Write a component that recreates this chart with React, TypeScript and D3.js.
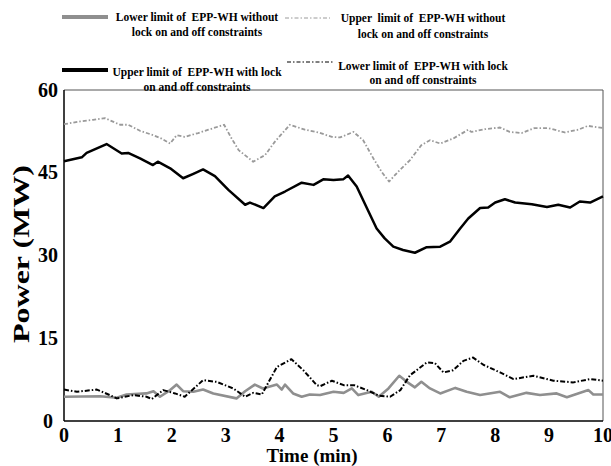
import React from "react";
import * as d3 from "d3";

const xTicks = [0, 1, 2, 3, 4, 5, 6, 7, 8, 9, 10];
const yTicks = [0, 15, 30, 45, 60];

// Upper limit with lock (black solid)
const tUpperLock = [0, 0.33, 0.42, 0.79, 1.07, 1.19, 1.41, 1.65, 1.74, 1.97, 2.21, 2.4, 2.58, 2.8, 3.05, 3.36, 3.45, 3.7, 3.91, 4.1, 4.41, 4.63, 4.81, 5.0, 5.18, 5.27, 5.43, 5.61, 5.8, 5.95, 6.11, 6.29, 6.51, 6.73, 6.98, 7.16, 7.35, 7.5, 7.72, 7.87, 8.0, 8.18, 8.37, 8.68, 8.96, 9.17, 9.39, 9.57, 9.76, 10];
const vUpperLock = [47.1, 47.8, 48.6, 50.2, 48.5, 48.6, 47.6, 46.4, 47.0, 45.8, 44.0, 44.8, 45.6, 44.4, 41.9, 39.2, 39.6, 38.6, 40.7, 41.6, 43.2, 42.8, 43.8, 43.7, 43.8, 44.5, 42.5, 38.8, 34.9, 33.1, 31.6, 31.0, 30.5, 31.5, 31.6, 32.5, 34.9, 36.7, 38.6, 38.7, 39.6, 40.2, 39.6, 39.3, 38.8, 39.2, 38.7, 39.8, 39.6, 40.7];

// Upper limit without lock (gray dash-dot)
const tUpperNoLock = [0, 0.3, 0.54, 0.76, 1.04, 1.19, 1.41, 1.66, 1.81, 1.97, 2.09, 2.24, 2.49, 2.68, 2.97, 3.11, 3.24, 3.51, 3.73, 3.91, 4.19, 4.47, 4.72, 4.97, 5.12, 5.37, 5.55, 5.74, 5.89, 6.03, 6.2, 6.42, 6.63, 6.79, 6.98, 7.22, 7.5, 7.56, 7.81, 8.09, 8.27, 8.49, 8.73, 8.98, 9.29, 9.54, 9.72, 10];
const vUpperNoLock = [53.8, 54.3, 54.6, 54.9, 53.7, 53.7, 52.6, 51.8, 51.2, 50.3, 51.8, 51.5, 52.2, 52.8, 53.7, 51.2, 49.1, 47.0, 48.2, 50.6, 53.7, 52.8, 52.3, 51.5, 51.4, 52.4, 50.9, 47.6, 45.2, 43.4, 45.2, 47.3, 50.0, 50.9, 50.3, 51.2, 52.8, 52.4, 52.9, 53.2, 52.4, 52.2, 53.1, 53.1, 52.3, 52.8, 53.5, 53.1];

// Lower limit with lock (black dash-dot)
const tLowerLock = [0, 0.24, 0.61, 0.85, 0.98, 1.29, 1.53, 1.63, 1.84, 2.06, 2.24, 2.58, 2.83, 3.14, 3.36, 3.51, 3.67, 3.95, 4.22, 4.44, 4.69, 4.75, 4.97, 5.19, 5.38, 5.62, 5.84, 6.05, 6.24, 6.42, 6.73, 6.88, 7.04, 7.22, 7.41, 7.59, 7.78, 8.09, 8.34, 8.71, 9.08, 9.45, 9.76, 10];
const vLowerLock = [5.7, 5.3, 5.7, 4.7, 4.1, 4.7, 4.4, 4.0, 5.6, 5.0, 4.4, 7.4, 7.1, 5.9, 4.4, 5.1, 4.8, 9.8, 11.2, 9.2, 6.5, 6.3, 7.3, 6.5, 6.5, 5.6, 4.6, 4.4, 5.6, 8.3, 10.6, 10.5, 8.8, 9.2, 10.9, 11.5, 10.2, 8.8, 7.6, 8.2, 7.3, 7.0, 7.6, 7.3];

// Lower limit without lock (gray solid)
const tLowerNoLock = [0, 0.67, 0.98, 1.16, 1.53, 1.66, 1.78, 1.97, 2.09, 2.21, 2.4, 2.58, 2.77, 3.2, 3.36, 3.54, 3.69, 3.95, 4.04, 4.1, 4.25, 4.41, 4.56, 4.75, 5.0, 5.19, 5.34, 5.46, 5.71, 5.84, 6.02, 6.22, 6.36, 6.51, 6.63, 6.79, 6.98, 7.26, 7.47, 7.72, 8.09, 8.27, 8.58, 8.83, 9.14, 9.33, 9.73, 9.82, 10];
const vLowerNoLock = [4.4, 4.5, 4.2, 4.8, 5.0, 5.4, 4.4, 5.6, 6.6, 5.4, 5.3, 5.7, 5.0, 4.1, 5.4, 6.6, 5.9, 6.6, 5.7, 6.6, 5.0, 4.4, 4.8, 4.7, 5.3, 5.1, 5.9, 4.7, 5.3, 4.4, 5.9, 8.2, 7.1, 6.1, 7.1, 5.9, 5.0, 6.0, 5.3, 4.7, 5.3, 4.3, 5.1, 4.7, 5.0, 4.3, 5.6, 4.8, 4.8];

const legendLines1 = ["Lower limit of  EPP-WH without", "lock on and off constraints"];
const legendLines2 = ["Upper  limit of  EPP-WH without", "lock on and off constraints"];
const legendLines3 = ["Upper limit of  EPP-WH with lock", "on and off constraints"];
const legendLines4 = ["Lower limit of  EPP-WH with lock", "on and off constraints"];

const W = 611, H = 466;
const L = 64, R = 603, T = 90, B = 421;
const FONT = "'Liberation Serif', 'Times New Roman', serif";

export default function App() {
  const x = d3.scaleLinear().domain([0, 10]).range([L, R]);
  const y = d3.scaleLinear().domain([0, 60]).range([B, T]);
  const mk = (ts: number[], vs: number[]) =>
    d3.line<number>().x((_, i) => x(ts[i])).y((v) => y(v))(vs) || "";

  const series = [
    { d: mk(tLowerNoLock, vLowerNoLock), stroke: "#8f8f8f", w: 2.6, dash: undefined },
    { d: mk(tLowerLock, vLowerLock), stroke: "#000", w: 2, dash: "5,2,1.5,2" },
    { d: mk(tUpperNoLock, vUpperNoLock), stroke: "#9a9a9a", w: 1.8, dash: "4,2,1.5,2" },
    { d: mk(tUpperLock, vUpperLock), stroke: "#000", w: 2.5, dash: undefined },
  ];

  const legendText = (lines: string[], cx: number, y0: number, dy: number) => (
    <text fontFamily={FONT} fontWeight="bold" fontSize={11.5} textAnchor="middle" fill="#000">
      {lines.map((l, i) => (
        <tspan key={i} x={cx} y={y0 + i * dy} style={{ whiteSpace: "pre" }}>{l}</tspan>
      ))}
    </text>
  );

  return (
    <svg width={W} height={H} style={{ position: "absolute", left: 0, top: 0, background: "#fff" }}>
      {/* frame */}
      <line x1={L} x2={R} y1={T} y2={T} stroke="#555" strokeWidth={1} />
      <line x1={R} x2={R} y1={T} y2={B} stroke="#555" strokeWidth={1} />
      <line x1={L} x2={L} y1={T} y2={B} stroke="#000" strokeWidth={1.5} />
      <line x1={L} x2={R} y1={B} y2={B} stroke="#000" strokeWidth={1.5} />

      {series.map((s, i) => (
        <path key={i} d={s.d} fill="none" stroke={s.stroke} strokeWidth={s.w}
          strokeDasharray={s.dash} strokeLinejoin="round" />
      ))}

      {/* y ticks */}
      {yTicks.map((v) => (
        <text key={v} x={48} y={y(v) + 6.5} textAnchor="middle" fontFamily={FONT}
          fontWeight="bold" fontSize={20}>{v}</text>
      ))}
      {/* x ticks */}
      {xTicks.map((v) => (
        <text key={v} x={x(v)} y={442} textAnchor="middle" fontFamily={FONT}
          fontWeight="bold" fontSize={20}>{v}</text>
      ))}
      <text x={312} y={462} textAnchor="middle" fontFamily={FONT} fontWeight="bold" fontSize={19}>Time (min)</text>
      <text transform={`translate(29,${254}) rotate(-90)`} textAnchor="middle" fontFamily={FONT}
        fontWeight="bold" fontSize={24} textLength={178} lengthAdjust="spacingAndGlyphs">Power (MW)</text>

      {/* legend */}
      <line x1={62} x2={108} y1={17} y2={17} stroke="#8f8f8f" strokeWidth={4} />
      {legendText(legendLines1, 197, 21, 15)}
      <line x1={285} x2={330} y1={18} y2={18} stroke="#9a9a9a" strokeWidth={1} strokeDasharray="4,2,1.5,2" />
      {legendText(legendLines2, 423, 22, 16)}
      <line x1={62} x2={108} y1={70} y2={70} stroke="#000" strokeWidth={4} />
      {legendText(legendLines3, 197, 76, 15)}
      <line x1={287} x2={333} y1={62} y2={62} stroke="#000" strokeWidth={1.2} strokeDasharray="4,2,1.5,2" />
      {legendText(legendLines4, 423, 70, 14)}
    </svg>
  );
}
